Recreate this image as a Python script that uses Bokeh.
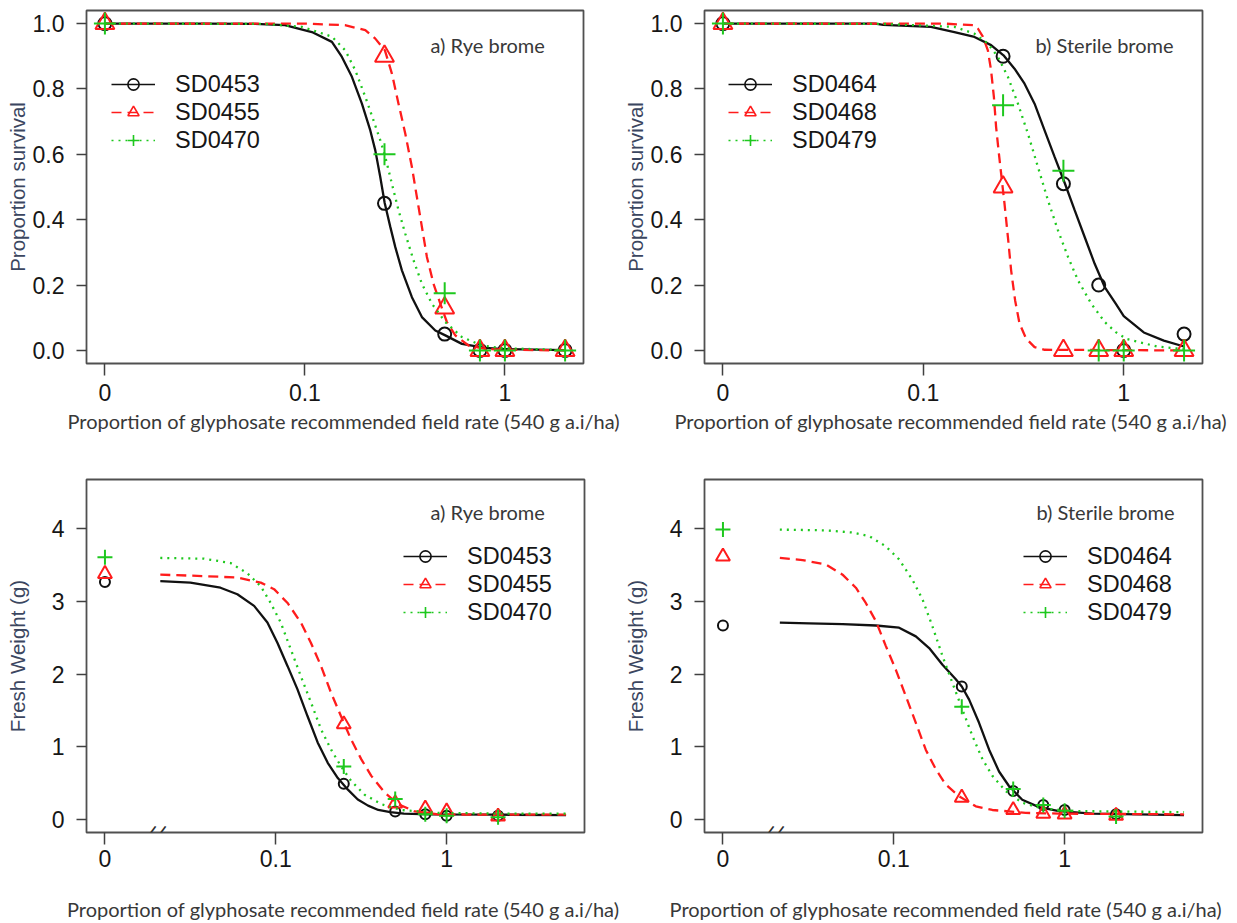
from bokeh.plotting import figure
from bokeh.layouts import row, column
from bokeh.models import (Range1d, FixedTicker, CustomJSTickFormatter, PrintfTickFormatter,
                          Label, Legend, LegendItem, Title)
from bokeh.embed import file_html
from bokeh.resources import INLINE

# ---------------------------------------------------------------- data
doses = [0, 0.25, 0.5, 0.75, 1.0, 2.0]          # proportion of field rate (0 drawn at 0.01)
ZERO_AT = 0.01

x_ticks = [0.01, 0.1, 1.0]                        # labelled "0", "0.1", "1"
surv_y_ticks = [0.0, 0.2, 0.4, 0.6, 0.8, 1.0]
fw_y_ticks = [0, 1, 2, 3, 4]

rye_names = ["SD0453", "SD0455", "SD0470"]
sterile_names = ["SD0464", "SD0468", "SD0479"]

# --- a) Rye brome, proportion survival (observed)
surv_SD0453 = [1.00, 0.45, 0.05, 0.0, 0.0, 0.0]
surv_SD0455 = [1.00, 0.90, 0.13, 0.0, 0.0, 0.0]
surv_SD0470 = [1.00, 0.60, 0.175, 0.0, 0.0, 0.0]
# fitted curves (log10 dose, survival)
fit_surv_SD0453_lx = [-2.0, -1.5, -1.25, -1.1, -0.965, -0.865, -0.815, -0.765, -0.715, -0.673, -0.648, -0.623,
                      -0.601, -0.573, -0.548, -0.515, -0.465, -0.415, -0.348, -0.298, -0.215, -0.1, 0.0, 0.301]
fit_surv_SD0453_y = [1.0, 1.0, 0.999, 0.995, 0.974, 0.944, 0.898, 0.837, 0.755, 0.673, 0.612, 0.53,
                     0.451, 0.378, 0.316, 0.245, 0.163, 0.102, 0.061, 0.046, 0.02, 0.008, 0.004, 0.001]
fit_surv_SD0455_lx = [-2.0, -1.0, -0.8, -0.698, -0.648, -0.6, -0.565, -0.532, -0.498, -0.465, -0.44, -0.415,
                      -0.39, -0.357, -0.323, -0.29, -0.248, -0.182, -0.1, 0.0, 0.301]
fit_surv_SD0455_y = [1.0, 1.0, 0.995, 0.98, 0.954, 0.918, 0.847, 0.755, 0.663, 0.561, 0.469, 0.378,
                     0.286, 0.204, 0.143, 0.087, 0.046, 0.015, 0.005, 0.002, 0.0]
fit_surv_SD0470_lx = [-2.0, -1.2, -1.015, -0.865, -0.798, -0.748, -0.698, -0.657, -0.623, -0.598, -0.565, -0.532,
                      -0.498, -0.457, -0.415, -0.365, -0.298, -0.215, -0.115, -0.015, 0.301]
fit_surv_SD0470_y = [1.0, 0.999, 0.99, 0.96, 0.918, 0.857, 0.776, 0.704, 0.643, 0.592, 0.51, 0.429,
                     0.357, 0.276, 0.204, 0.143, 0.087, 0.041, 0.015, 0.007, 0.001]

# --- b) Sterile brome, proportion survival (observed)
surv_SD0464 = [1.00, 0.90, 0.51, 0.20, 0.0, 0.05]
surv_SD0468 = [1.00, 0.50, 0.0, 0.0, 0.0, 0.0]
surv_SD0479 = [1.00, 0.75, 0.55, 0.0, 0.0, 0.0]
fit_surv_SD0464_lx = [-2.0, -1.5, -1.24, -1.2, -0.962, -0.845, -0.745, -0.662, -0.6, -0.545, -0.495, -0.445,
                      -0.395, -0.345, -0.295, -0.245, -0.195, -0.145, -0.095, -0.04, 0.0, 0.1, 0.2, 0.301]
fit_surv_SD0464_y = [1.0, 1.0, 1.0, 0.996, 0.99, 0.974, 0.959, 0.934, 0.903, 0.862, 0.816, 0.755,
                     0.673, 0.592, 0.513, 0.429, 0.347, 0.265, 0.194, 0.143, 0.105, 0.055, 0.03, 0.012]
fit_surv_SD0468_lx = [-2.0, -0.9, -0.745, -0.728, -0.703, -0.678, -0.662, -0.648, -0.637, -0.623, -0.608,
                      -0.595, -0.578, -0.562, -0.542, -0.52, -0.487, -0.445, -0.395, 0.301]
fit_surv_SD0468_y = [1.0, 1.0, 0.995, 0.985, 0.96, 0.918, 0.857, 0.776, 0.684, 0.602, 0.52,
                     0.449, 0.347, 0.245, 0.153, 0.082, 0.036, 0.01, 0.002, 0.0]
fit_surv_SD0479_lx = [-2.0, -1.2, -0.845, -0.745, -0.678, -0.628, -0.578, -0.528, -0.478, -0.428, -0.378,
                      -0.328, -0.278, -0.228, -0.162, -0.095, -0.04, 0.015, 0.165, 0.301]
fit_surv_SD0479_y = [1.0, 0.999, 0.99, 0.969, 0.939, 0.898, 0.837, 0.755, 0.663, 0.561, 0.459,
                     0.367, 0.286, 0.214, 0.143, 0.087, 0.056, 0.035, 0.012, 0.004]

# --- a) Rye brome, fresh weight (g)
fw_SD0453 = [3.27, 0.49, 0.11, 0.07, 0.05, 0.05]
fw_SD0455 = [3.38, 1.31, 0.22, 0.15, 0.11, 0.04]
fw_SD0470 = [3.61, 0.73, 0.28, 0.07, 0.05, 0.03]
fit_fw_SD0453_lx = [-1.676, -1.5, -1.324, -1.225, -1.127, -1.049, -0.99, -0.931, -0.873, -0.814, -0.755,
                    -0.696, -0.637, -0.578, -0.52, -0.46, -0.4, -0.33, -0.25, -0.1, 0.3, 0.699]
fit_fw_SD0453_y = [3.28, 3.26, 3.19, 3.10, 2.94, 2.71, 2.43, 2.11, 1.79, 1.42, 1.06,
                   0.78, 0.57, 0.41, 0.275, 0.19, 0.13, 0.10, 0.08, 0.07, 0.065, 0.06]
fit_fw_SD0455_lx = [-1.676, -1.42, -1.225, -1.088, -1.01, -0.931, -0.853, -0.794, -0.735, -0.676, -0.618,
                    -0.559, -0.5, -0.441, -0.363, -0.284, -0.186, -0.049, 0.3, 0.699]
fit_fw_SD0455_y = [3.37, 3.35, 3.33, 3.26, 3.17, 2.98, 2.71, 2.43, 2.11, 1.74, 1.42,
                   1.10, 0.83, 0.60, 0.37, 0.21, 0.11, 0.07, 0.065, 0.065]
fit_fw_SD0470_lx = [-1.676, -1.42, -1.265, -1.167, -1.088, -1.03, -0.971, -0.912, -0.853, -0.794, -0.735,
                    -0.676, -0.618, -0.559, -0.48, -0.382, -0.265, -0.049, 0.3, 0.699]
fit_fw_SD0470_y = [3.60, 3.59, 3.53, 3.39, 3.21, 2.98, 2.71, 2.34, 1.97, 1.61, 1.24,
                   0.96, 0.73, 0.53, 0.34, 0.21, 0.13, 0.09, 0.08, 0.08]

# --- b) Sterile brome, fresh weight (g)
fw_SD0464 = [2.67, 1.83, 0.39, 0.20, 0.13, 0.07]
fw_SD0468 = [3.62, 0.30, 0.13, 0.08, 0.07, 0.05]
fw_SD0479 = [3.99, 1.55, 0.42, 0.20, 0.12, 0.04]
fit_fw_SD0464_lx = [-1.667, -1.495, -1.3, -1.105, -0.969, -0.871, -0.793, -0.715, -0.637, -0.602, -0.559,
                    -0.501, -0.442, -0.384, -0.326, -0.248, -0.15, -0.033, 0.162, 0.699]
fit_fw_SD0464_y = [2.71, 2.70, 2.69, 2.67, 2.64, 2.52, 2.36, 2.13, 1.93, 1.83, 1.65,
                   1.33, 0.96, 0.66, 0.46, 0.27, 0.17, 0.115, 0.08, 0.06]
fit_fw_SD0468_lx = [-1.667, -1.534, -1.398, -1.3, -1.222, -1.164, -1.105, -1.047, -0.988, -0.93, -0.871,
                    -0.813, -0.754, -0.696, -0.618, -0.52, -0.423, -0.228, -0.033, 0.699]
fit_fw_SD0468_y = [3.60, 3.57, 3.51, 3.37, 3.19, 2.98, 2.73, 2.39, 2.06, 1.70, 1.33,
                   0.96, 0.69, 0.48, 0.32, 0.18, 0.13, 0.09, 0.08, 0.07]
fit_fw_SD0479_lx = [-1.667, -1.398, -1.242, -1.144, -1.047, -0.969, -0.891, -0.832, -0.774, -0.715, -0.657,
                    -0.598, -0.54, -0.481, -0.423, -0.345, -0.248, -0.131, 0.064, 0.699]
fit_fw_SD0479_y = [3.99, 3.98, 3.95, 3.90, 3.76, 3.58, 3.30, 3.03, 2.66, 2.25, 1.88,
                   1.51, 1.15, 0.83, 0.60, 0.39, 0.23, 0.15, 0.115, 0.10]

x_title = "Proportion of glyphosate recommended field rate (540 g a.i/ha)"
surv_title = "Proportion survival"
fw_title = "Fresh Weight (g)"

# ---------------------------------------------------------------- style
COLORS = ["#111111", "#ff1c1c", "#1ec81e"]
DASHES = ["solid", "10 6", "2 5"]
MARKERS = ["circle", "triangle", "cross"]
TICK_FONT = "Liberation Sans"
WORD_FONT = "Lato"
YT_COLOR = "#3b4660"
TXT_COLOR = "#383838"
NBSP = "\u00a0"

# page geometry (figure sizes and page origins; the page has no margin)
W_L, W_R = 620, 616
H_T, H_B = 470, 453
FIG_X = {"L": 0, "R": W_L}
FIG_Y = {"T": 0, "B": H_T}


def add_text(p, fl, fb, px, py, text, font, size, color, align="left", baseline="middle", angle=0.0,
             style="normal"):
    """Text inside the frame; px, py are page pixels; fl, fb the frame left/bottom in page pixels."""
    p.add_layout(Label(x=px - fl, y=fb - py, x_units="screen", y_units="screen", text=text,
                       text_font=font, text_font_size=size, text_color=color, text_align=align,
                       text_baseline=baseline, angle=angle, text_font_style=style))


def panel(col, rw, fl_page, ft_page, fw, fh, xr, yr, yticks, yfmt, xstand, ytitle, ystand):
    width = W_L if col == "L" else W_R
    height = H_T if rw == "T" else H_B
    left = fl_page - FIG_X[col]
    top = ft_page - FIG_Y[rw]
    p = figure(width=width, height=height, x_axis_type="log",
               x_range=Range1d(10 ** xr[0], 10 ** xr[1]), y_range=Range1d(*yr),
               output_backend="svg", toolbar_location=None,
               min_border_left=left, min_border_right=width - left - fw,
               min_border_top=top, min_border_bottom=height - top - fh)
    p.xgrid.visible = False
    p.ygrid.visible = False
    p.outline_line_color = "#505050"
    p.outline_line_width = 1.8
    p.background_fill_color = "white"
    p.border_fill_color = "white"
    for ax in (p.xaxis, p.yaxis):
        ax.axis_line_color = None
        ax.major_tick_in = 0
        ax.minor_tick_in = 0
        ax.minor_tick_out = 0
        ax.major_tick_line_color = "#404040"
        ax.major_tick_line_width = 1.5
        ax.major_label_text_font = TICK_FONT
        ax.major_label_text_font_size = "23px"
        ax.major_label_text_color = "#161616"
    p.xaxis.major_tick_out = 12
    p.yaxis.major_tick_out = 10
    p.xaxis.ticker = FixedTicker(ticks=x_ticks, minor_ticks=[])
    p.xaxis.formatter = CustomJSTickFormatter(
        code="return tick < 0.03 ? '0' : (tick < 0.3 ? '0.1' : '1');")
    p.xaxis.major_label_standoff = xstand
    p.yaxis.ticker = FixedTicker(ticks=yticks, minor_ticks=[])
    p.yaxis.formatter = PrintfTickFormatter(format=yfmt)
    p.yaxis.major_label_standoff = 12
    p.yaxis.axis_label = ytitle
    p.yaxis.axis_label_text_font = TICK_FONT
    p.yaxis.axis_label_text_font_size = "20.5px"
    p.yaxis.axis_label_text_font_style = "normal"
    p.yaxis.axis_label_text_color = YT_COLOR
    p.yaxis.axis_label_standoff = ystand
    return p


def x_title_as_title(p, fl_page, title_left, standoff):
    p.add_layout(Title(text=x_title, align="left", vertical_align="top",
                       offset=title_left - fl_page, standoff=standoff,
                       text_font=WORD_FONT, text_font_size="20px", text_font_style="normal",
                       text_color=TXT_COLOR), "below")


def x_title_as_axis_label(p, lead, trail, standoff):
    p.xaxis.axis_label = NBSP * lead + x_title + NBSP * trail
    p.xaxis.axis_label_text_font = WORD_FONT
    p.xaxis.axis_label_text_font_size = "20px"
    p.xaxis.axis_label_text_font_style = "normal"
    p.xaxis.axis_label_text_color = TXT_COLOR
    p.xaxis.axis_label_standoff = standoff


def draw_series(p, obs, fits, names, msizes, legend_xy, fl, fb):
    items = []
    xs = [ZERO_AT if d == 0 else d for d in doses]
    for k in range(3):
        lx, ly = fits[k]
        cx = [10 ** v for v in lx]
        p.line(cx, ly, line_color=COLORS[k], line_width=2.3, line_dash=DASHES[k])
        p.scatter(xs, obs[k], marker=MARKERS[k], size=msizes[k], fill_color=None,
                  line_color=COLORS[k], line_width=2.0)
        # legend-only copies (thinner lines)
        lr = p.line(cx, ly, line_color=COLORS[k], line_width=1.6, line_dash=DASHES[k], visible=False)
        sr = p.scatter(xs, obs[k], marker=MARKERS[k], size=10, fill_color=None,
                       line_color=COLORS[k], line_width=1.6, visible=False)
        items.append(LegendItem(label=names[k], renderers=[lr, sr]))
    gx, gy_top = legend_xy
    row_h = 28
    leg = Legend(items=items, location=(gx - fl, fb - (gy_top + 3 * row_h)), orientation="vertical",
                 padding=0, margin=0, spacing=0, glyph_width=44, glyph_height=row_h, label_height=row_h,
                 label_standoff=20, label_text_font=TICK_FONT, label_text_font_size="23.5px",
                 label_text_color="#161616", border_line_color=None, background_fill_alpha=0)
    p.add_layout(leg)


# ---------------------------------------------------------------- panels
TOP_XR = (-2.092, 0.393)
BOT_XR = (-2.108, 0.807)

# top-left
p1 = panel("L", "T", 86, 10, 497, 353, TOP_XR, (-0.04, 1.04), surv_y_ticks, "%.1f", 8, surv_title, 1)
draw_series(p1, [surv_SD0453, surv_SD0455, surv_SD0470],
            [(fit_surv_SD0453_lx, fit_surv_SD0453_y), (fit_surv_SD0455_lx, fit_surv_SD0455_y),
             (fit_surv_SD0470_lx, fit_surv_SD0470_y)], rye_names, [13, 19, 22], (111, 70), 86, 363)
add_text(p1, 86, 363, 430, 44, "a) Rye brome", WORD_FONT, "20px", TXT_COLOR)
x_title_as_title(p1, 86, 67, 10)

# top-right
p2 = panel("R", "T", 703, 10, 499, 353, TOP_XR, (-0.04, 1.04), surv_y_ticks, "%.1f", 8, surv_title, 1)
draw_series(p2, [surv_SD0464, surv_SD0468, surv_SD0479],
            [(fit_surv_SD0464_lx, fit_surv_SD0464_y), (fit_surv_SD0468_lx, fit_surv_SD0468_y),
             (fit_surv_SD0479_lx, fit_surv_SD0479_y)], sterile_names, [13, 19, 22], (727, 70), 703, 363)
add_text(p2, 703, 363, 1034, 44, "b) Sterile brome", WORD_FONT, "20px", TXT_COLOR)
x_title_as_title(p2, 703, 673, 10)

# bottom-left
p3 = panel("L", "B", 86, 479, 498, 354, BOT_XR, (-0.18, 4.68), fw_y_ticks, "%d", 5, fw_title, 20)
draw_series(p3, [fw_SD0453, fw_SD0455, fw_SD0470],
            [(fit_fw_SD0453_lx, fit_fw_SD0453_y), (fit_fw_SD0455_lx, fit_fw_SD0455_y),
             (fit_fw_SD0470_lx, fit_fw_SD0470_y)], rye_names, [10, 14, 15], (403, 543), 86, 833)
add_text(p3, 86, 833, 430, 512, "a) Rye brome", WORD_FONT, "20px", TXT_COLOR)
add_text(p3, 86, 833, 152, 831, "/", TICK_FONT, "14px", "#303030", align="center", angle=-0.45,
         style="bold")
add_text(p3, 86, 833, 162, 831, "/", TICK_FONT, "14px", "#303030", align="center", angle=-0.45,
         style="bold")
x_title_as_axis_label(p3, 3, 0, 27)

# bottom-right
p4 = panel("R", "B", 702, 479, 500, 354, BOT_XR, (-0.18, 4.68), fw_y_ticks, "%d", 5, fw_title, 20)
draw_series(p4, [fw_SD0464, fw_SD0468, fw_SD0479],
            [(fit_fw_SD0464_lx, fit_fw_SD0464_y), (fit_fw_SD0468_lx, fit_fw_SD0468_y),
             (fit_fw_SD0479_lx, fit_fw_SD0479_y)], sterile_names, [10, 14, 15], (1021, 543), 702, 833)
add_text(p4, 702, 833, 1034, 512, "b) Sterile brome", WORD_FONT, "20px", TXT_COLOR)
add_text(p4, 702, 833, 768, 831, "/", TICK_FONT, "14px", "#303030", align="center", angle=-0.45,
         style="bold")
add_text(p4, 702, 833, 778, 831, "/", TICK_FONT, "14px", "#303030", align="center", angle=-0.45,
         style="bold")
x_title_as_axis_label(p4, 0, 3, 27)

layout = column(row(p1, p2), row(p3, p4))
open("out.html", "w").write(file_html(layout, INLINE))
